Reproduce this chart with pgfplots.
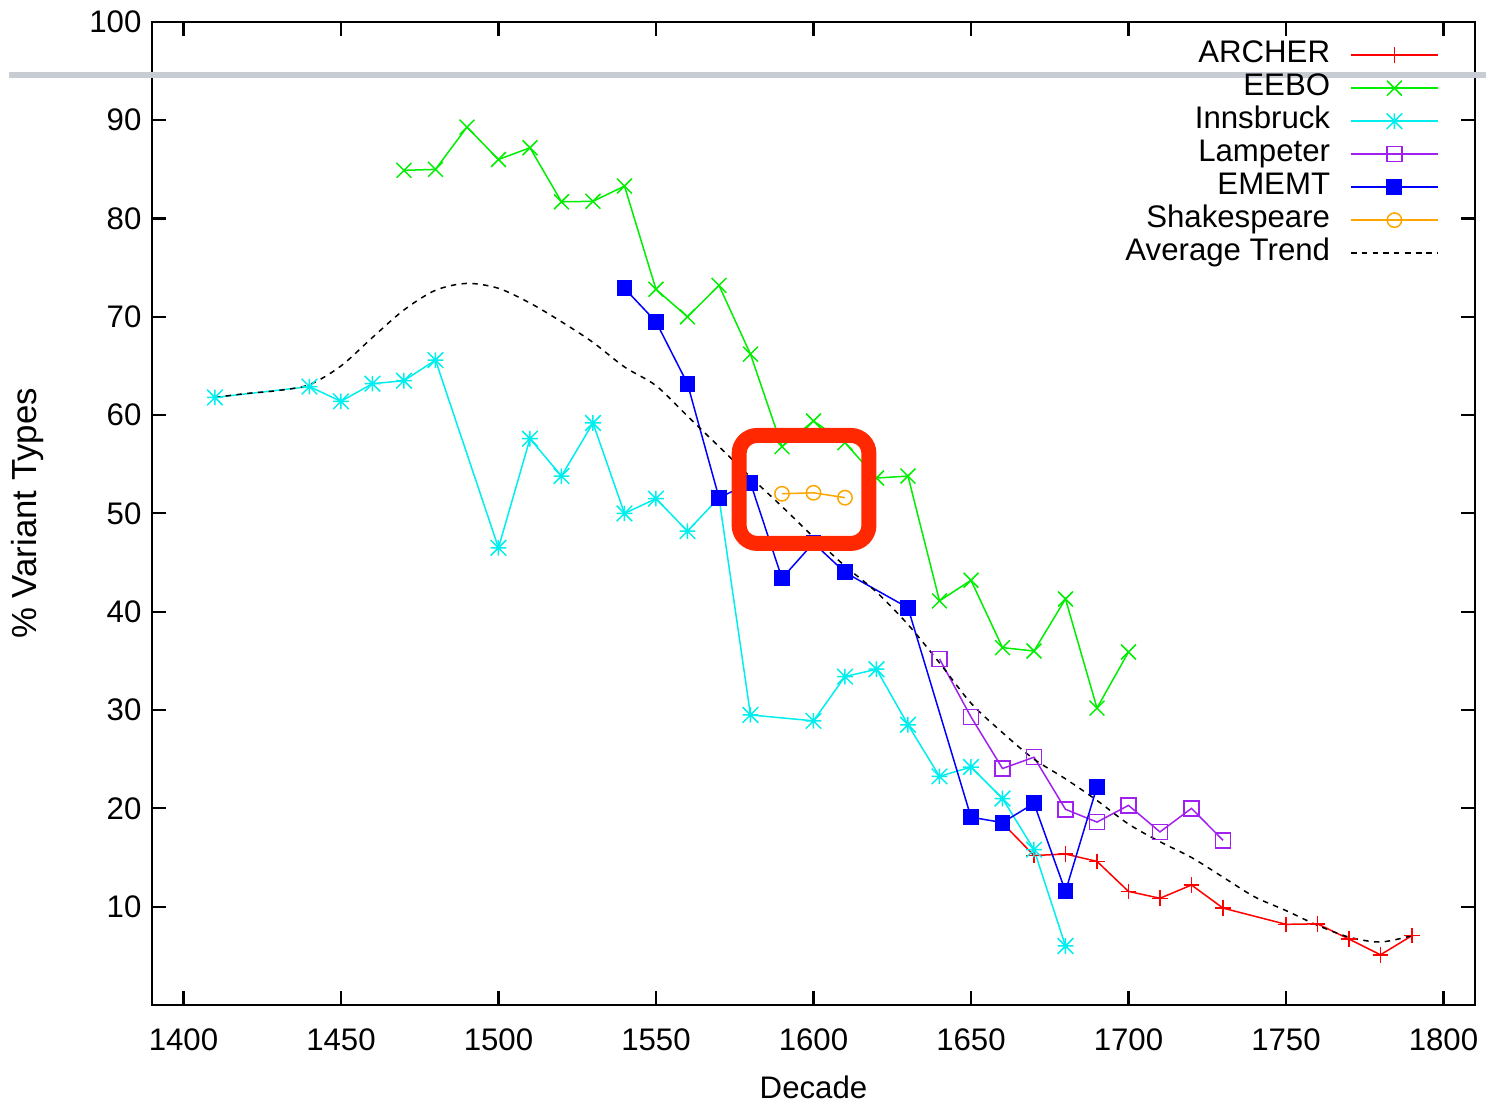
\documentclass[border=0pt]{standalone}
\usepackage{fontspec}
\setmainfont{Liberation Sans}
\usepackage{pgfplots}
\pgfplotsset{compat=1.18}

\definecolor{cArcher}{RGB}{255,0,0}
\definecolor{cEebo}{RGB}{0,238,0}
\definecolor{cInns}{RGB}{0,238,238}
\definecolor{cLamp}{RGB}{160,32,240}
\definecolor{cEmemt}{RGB}{0,0,255}
\definecolor{cShak}{RGB}{255,165,0}
\definecolor{cBox}{RGB}{255,40,0}
\definecolor{cBar}{RGB}{200,205,212}

% gnuplot style star: plus and cross together
\pgfdeclareplotmark{gpstar}{%
  \pgfpathmoveto{\pgfqpoint{-\pgfplotmarksize}{0pt}}\pgfpathlineto{\pgfqpoint{\pgfplotmarksize}{0pt}}%
  \pgfpathmoveto{\pgfqpoint{0pt}{-\pgfplotmarksize}}\pgfpathlineto{\pgfqpoint{0pt}{\pgfplotmarksize}}%
  \pgfpathmoveto{\pgfqpoint{-\pgfplotmarksize}{-\pgfplotmarksize}}\pgfpathlineto{\pgfqpoint{\pgfplotmarksize}{\pgfplotmarksize}}%
  \pgfpathmoveto{\pgfqpoint{-\pgfplotmarksize}{\pgfplotmarksize}}\pgfpathlineto{\pgfqpoint{\pgfplotmarksize}{-\pgfplotmarksize}}%
  \pgfusepathqstroke}

\begin{document}
\begin{tikzpicture}[font=\fontsize{10.4pt}{12.5pt}\selectfont]
\begin{axis}[
    scale only axis,
    width=15.506cm, height=11.521cm,
    xmin=1390, xmax=1810,
    ymin=0, ymax=100,
    xtick={1400,1450,...,1800},
    ytick={10,20,...,100},
    /pgf/number format/1000 sep={},
    /pgf/number format/assume math mode=true,
    major tick length=0.164cm,
    tick align=inside,
    tick style={black, line width=0.7pt},
    axis line style={line width=0.9pt},
    xticklabel style={yshift=-4.5pt},
    xlabel={Decade},
    ylabel={\% Variant Types},
    xlabel style={at={(axis description cs:0.5,-0.0834)}, anchor=center},
    ylabel style={at={(axis description cs:-0.0937,0.5)}, anchor=center,
        font=\fontsize{11.6pt}{13pt}\selectfont},
    clip=false,
    legend plot pos=right,
    legend cell align=right,
    legend style={draw=none, fill=none, at={(0.973,0.982)}, anchor=north east,
        inner sep=0pt, row sep=1pt, column sep=6.7pt,
        nodes={inner sep=0pt, text height=7.5pt, text depth=2.5pt}},
    legend image code/.code={%
        \draw[mark repeat=2, mark phase=2]
        plot coordinates {(0cm,0cm) (0.51cm,0cm) (1.02cm,0cm)};},
]

% band across the top
\draw[cBar, line width=1.7pt] (axis cs:1344.5,94.6) -- (axis cs:1813.4,94.6);

\addplot[cArcher, line width=0.5pt, mark=+, mark size=2.6pt, mark options={solid}] coordinates {
    (1660,18.5) (1670,15.2) (1680,15.35) (1690,14.6) (1700,11.55) (1710,10.85)
    (1720,12.2) (1730,9.85) (1750,8.2) (1760,8.25) (1770,6.7) (1780,5.1) (1790,7.05)
};
\addlegendentry{ARCHER}

\addplot[cEebo, line width=0.5pt, mark=x, mark size=3.5pt, mark options={solid}] coordinates {
    (1470,84.9) (1480,85.0) (1490,89.3) (1500,86.0) (1510,87.2) (1520,81.7)
    (1530,81.75) (1540,83.3) (1550,72.8) (1560,70.0) (1570,73.2) (1580,66.2)
    (1590,56.8) (1600,59.4) (1610,57.2) (1620,53.6) (1630,53.8) (1640,41.1)
    (1650,43.2) (1660,36.35) (1670,36.0) (1680,41.3) (1690,30.2) (1700,35.9)
};
\addlegendentry{EEBO}

\addplot[cInns, line width=0.5pt, mark=gpstar, mark size=2.6pt, mark options={solid}] coordinates {
    (1410,61.8) (1440,62.9) (1450,61.4) (1460,63.2) (1470,63.5) (1480,65.6)
    (1500,46.5) (1510,57.6) (1520,53.8) (1530,59.2) (1540,50.0) (1550,51.5)
    (1560,48.2) (1570,51.6) (1580,29.5) (1600,28.9) (1610,33.4) (1620,34.15)
    (1630,28.5) (1640,23.25) (1650,24.2) (1660,21.0) (1670,15.8) (1680,6.0)
};
\addlegendentry{Innsbruck}

\addplot[cLamp, line width=0.5pt, mark=square, mark size=2.5pt, mark options={solid}] coordinates {
    (1640,35.2) (1650,29.3) (1660,24.05) (1670,25.2) (1680,19.9)
    (1690,18.6) (1700,20.3) (1710,17.6) (1720,20.0) (1730,16.75)
};
\addlegendentry{Lampeter}

\addplot[cEmemt, line width=0.5pt, mark=square*, mark size=2.4pt, mark options={solid}] coordinates {
    (1540,72.9) (1550,69.5) (1560,63.2) (1570,51.6) (1580,53.1) (1590,43.4)
    (1600,47.0) (1610,44.0) (1630,40.4) (1650,19.1) (1660,18.55) (1670,20.5)
    (1680,11.55) (1690,22.2)
};
\addlegendentry{EMEMT}

\addplot[cShak, line width=0.5pt, mark=o, mark size=2.4pt, mark options={solid}] coordinates {
    (1590,52.0) (1600,52.1) (1610,51.6)
};
\addlegendentry{Shakespeare}

\addplot[black, line width=0.5pt, dash pattern=on 1.8pt off 1.8pt, smooth] coordinates {
    (1410,61.8) (1420,62.2) (1430,62.5) (1440,63.1) (1450,65.0) (1460,67.9)
    (1470,70.7) (1480,72.7) (1490,73.4) (1500,72.9) (1510,71.4) (1520,69.5)
    (1530,67.4) (1540,64.9) (1550,63.0) (1560,59.9) (1570,56.8) (1580,53.7)
    (1590,50.7) (1600,47.6) (1610,44.65) (1620,42.0) (1630,38.7) (1640,34.8)
    (1650,30.7) (1660,27.7) (1670,25.0) (1680,23.0) (1690,20.8) (1700,18.4)
    (1710,16.6) (1720,15.0) (1730,13.0) (1740,11.0) (1750,9.6) (1760,8.1)
    (1770,6.9) (1780,6.4) (1790,7.05)
};
\addlegendentry{Average Trend}

\coordinate (boxA) at (axis cs:1576.4,57.93);
\coordinate (boxB) at (axis cs:1617.6,46.95);
\end{axis}
% highlight box, on top of everything
\draw[cBox, line width=5pt, rounded corners=6pt] (boxA) rectangle (boxB);
\pgfresetboundingbox
\path (current axis.south west) ++(-1.781cm,-1.137cm) rectangle ++(17.416cm,12.915cm);
\end{tikzpicture}
\end{document}
